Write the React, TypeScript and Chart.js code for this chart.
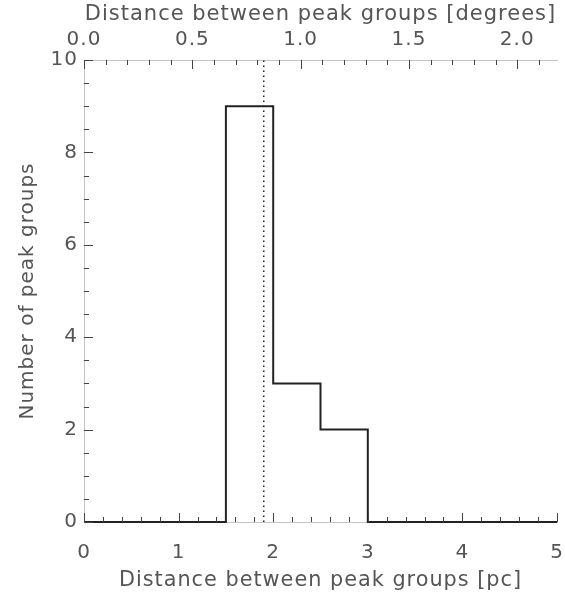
import React, { useEffect, useRef } from "react";
import { Chart, registerables } from "chart.js";

Chart.register(...registerables);

// Histogram of projected separations between neighbouring peak groups
const BIN_EDGES = [0, 0.5, 1, 1.5, 2, 2.5, 3, 3.5, 4, 4.5, 5]; // pc
const COUNTS = [0, 0, 0, 9, 3, 2, 0, 0, 0, 0];
const MEAN_SEPARATION = 1.9; // pc, dotted marker
const PC_PER_DEGREE = 2.29; // angular-to-physical conversion for the top axis

const X_TICKS = [0, 1, 2, 3, 4, 5];
const Y_TICKS = [0, 2, 4, 6, 8, 10];
const DEG_TICKS = [0, 0.5, 1, 1.5, 2];

const X_MAX = 5;
const Y_MAX = 10;

const TEXT = "#555";
const AXIS = "#c4c4c4";
const INK = "#222";
const FONT = "'DejaVu Sans', sans-serif";

// Inward ticks with minor subdivisions, drawn from the chart's own scales
const innerTicks = {
  id: "innerTicks",
  beforeDraw(chart: any) {
    chart.ctx.letterSpacing = "1px";
  },
  afterDatasetsDraw(chart: any) {
    const { ctx, chartArea, scales } = chart;
    const { left, top, bottom } = chartArea;
    ctx.save();
    ctx.strokeStyle = "#444";
    ctx.lineWidth = 1;
    const line = (x1: number, y1: number, x2: number, y2: number) => {
      ctx.beginPath();
      ctx.moveTo(x1, y1);
      ctx.lineTo(x2, y2);
      ctx.stroke();
    };
    // bottom: majors every 1 pc, minors every 0.2 pc
    for (let i = 0; i <= X_MAX * 5; i++) {
      const v = i / 5;
      const px = Math.round(scales.x.getPixelForValue(v)) + 0.5;
      const len = i % 5 === 0 ? 9 : 5;
      line(px, bottom, px, bottom - len);
    }
    // top: majors every 0.5 deg, minors every 0.1 deg
    const degMax = scales.xDeg.max;
    for (let i = 0; i <= Math.floor(degMax * 10 + 1e-6); i++) {
      const v = i / 10;
      const px = Math.round(scales.xDeg.getPixelForValue(v)) + 0.5;
      const len = i % 5 === 0 ? 9 : 5;
      line(px, top, px, top + len);
    }
    // left: majors every 2, minors every 0.5
    for (let i = 0; i <= Y_MAX * 2; i++) {
      const v = i / 2;
      const py = Math.round(scales.y.getPixelForValue(v)) + 0.5;
      const len = i % 4 === 0 ? 9 : 5;
      line(left, py, left + len, py);
    }
    ctx.restore();
  },
};

export default function App() {
  const canvasRef = useRef<HTMLCanvasElement>(null);

  useEffect(() => {
    const canvas = canvasRef.current;
    if (!canvas) return;

    const stepPoints = BIN_EDGES.map((x, i) => ({
      x,
      y: COUNTS[Math.min(i, COUNTS.length - 1)],
    }));

    const chart = new Chart(canvas, {
      type: "line",
      data: {
        datasets: [
          {
            data: stepPoints,
            stepped: true,
            borderColor: INK,
            borderWidth: 2,
            pointRadius: 0,
            fill: false,
            clip: false as any,
          },
          {
            data: [
              { x: MEAN_SEPARATION, y: 0 },
              { x: MEAN_SEPARATION, y: Y_MAX },
            ],
            borderColor: INK,
            borderWidth: 1.5,
            borderDash: [1.5, 3.5],
            pointRadius: 0,
            fill: false,
          },
        ],
      },
      options: {
        responsive: false,
        animation: false,
        events: [],
        layout: { padding: { left: 0, right: 8, top: 0, bottom: 0 } },
        plugins: {
          legend: { display: false },
          tooltip: { enabled: false },
        },
        scales: {
          x: {
            type: "linear",
            position: "bottom",
            min: 0,
            max: X_MAX,
            afterBuildTicks: (s: any) => {
              s.ticks = X_TICKS.map((value) => ({ value }));
            },
            afterFit: (s: any) => {
              s.height = 81;
              s.paddingLeft = 0;
              s.paddingRight = 0;
            },
            grid: { display: false, drawTicks: false },
            border: { display: true, color: AXIS, width: 1 },
            ticks: {
              autoSkip: false,
              maxRotation: 0,
              padding: 19,
              color: TEXT,
              font: { family: FONT, size: 20 },
              callback: (v: any) => String(v),
            },
            title: {
              display: true,
              text: "Distance between peak groups [pc]",
              color: TEXT,
              font: { family: FONT, size: 20.8 },
              padding: { top: 0, bottom: 10 },
            },
          },
          xDeg: {
            type: "linear",
            axis: "x",
            position: "top",
            min: 0,
            max: X_MAX / PC_PER_DEGREE,
            afterBuildTicks: (s: any) => {
              s.ticks = DEG_TICKS.map((value) => ({ value }));
            },
            afterFit: (s: any) => {
              s.height = 60;
              s.paddingLeft = 0;
              s.paddingRight = 0;
            },
            grid: { display: false, drawTicks: false },
            border: { display: true, color: AXIS, width: 1 },
            ticks: {
              autoSkip: false,
              maxRotation: 0,
              padding: 8,
              color: TEXT,
              font: { family: FONT, size: 20 },
              callback: (v: any) => Number(v).toFixed(1),
            },
            title: {
              display: true,
              text: "Distance between peak groups [degrees]",
              color: TEXT,
              font: { family: FONT, size: 21 },
              padding: { top: 2, bottom: 0 },
            },
          },
          y: {
            type: "linear",
            position: "left",
            min: 0,
            max: Y_MAX,
            afterBuildTicks: (s: any) => {
              s.ticks = Y_TICKS.map((value) => ({ value }));
            },
            afterFit: (s: any) => {
              s.width = 84;
            },
            grid: { display: false, drawTicks: false },
            border: { display: true, color: AXIS, width: 1 },
            ticks: {
              autoSkip: false,
              padding: 6,
              color: TEXT,
              font: { family: FONT, size: 20 },
              callback: (v: any) => String(v),
            },
            title: {
              display: true,
              text: "Number of peak groups",
              color: TEXT,
              font: { family: FONT, size: 20 },
              padding: { top: 16, bottom: 0 },
            },
          },
        },
      },
      plugins: [innerTicks],
    } as any);

    return () => chart.destroy();
  }, []);

  return (
    <div
      style={{
        position: "fixed",
        left: 0,
        top: 0,
        width: 565,
        height: 603,
        background: "#fff",
      }}
    >
      <canvas ref={canvasRef} width={565} height={603} />
    </div>
  );
}
